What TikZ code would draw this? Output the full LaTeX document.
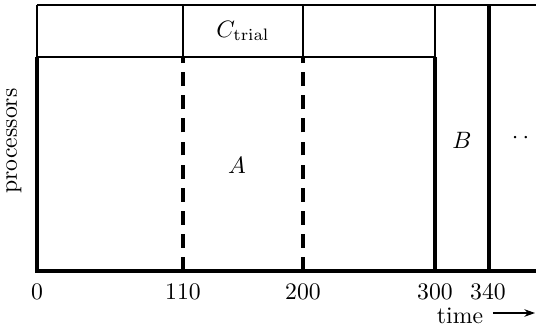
\documentclass[tikz,border=0pt]{standalone}
\usetikzlibrary{arrows.meta}
\begin{document}
\begin{tikzpicture}[x=0.422pt,y=-0.422pt,
  thinl/.style={line width=0.93pt},
  thickl/.style={line width=1.27pt},
  lbl/.style={inner sep=0pt, anchor=base},
  dashl/.style={line width=1.27pt, dash pattern=on 5.9pt off 3.85pt}]
\useasboundingbox (0,0) rectangle (536,328);
\clip (0,0) rectangle (536,328);
% coordinates
\coordinate (tl) at (37,5);
\coordinate (tr) at (540,5);
\coordinate (ml) at (37,57);
\coordinate (mr) at (435,57);
\coordinate (t300) at (435,5);
\coordinate (b300) at (435,271);
\coordinate (bl) at (37,271);
\coordinate (br) at (540,271);
\coordinate (t340) at (489,5);
\coordinate (b340) at (489,271);
\coordinate (ct1) at (183,5);
\coordinate (cb1) at (183,57);
\coordinate (ct2) at (303,5);
\coordinate (cb2) at (303,57);
\coordinate (db1) at (183,271);
\coordinate (db2) at (303,271);
% upper band
\draw[thinl] (tl) -- (tr);
\draw[thinl] (tl) -- (ml) -- (mr);
\draw[thinl] (t300) -- (mr);
\draw[thinl] (ct1) rectangle (cb2);
% lower box
\draw[thickl, line join=miter] (ml) -- (bl) -- (br);
\draw[thickl] (mr) -- (b300);
\draw[thickl] (t340) -- (b340);
% dashed lines
\draw[dashl] (db1) -- (cb1);
\draw[dashl] (db2) -- (cb2);
% labels
\node[lbl] (ctrial) at (243,37) {$C_{\mathrm{trial}}$};
\node[lbl] (A) at (237,173) {$A$};
\node[lbl] (B) at (462,148) {$B$};
\node[lbl] (dots) at (520.5,143) {${\cdot}\kern1.8pt{\cdot}$};
\node[lbl] (n0) at (37,299) {0};
\node[lbl] (n110) at (183,299) {110};
\node[lbl] (n200) at (303,299) {200};
\node[lbl] (n300) at (435,299) {300};
\node[lbl] (n340) at (488,299) {340};
\node[lbl] (time) at (460,323) {time};
\coordinate (a1) at (493,313);
\coordinate (a2) at (535,313);
\draw[line width=0.5pt, -{Stealth[length=4.5pt,width=3.2pt]}] (a1) -- (a2);
\node[lbl, rotate=90] (proc) at (17,141) {processors};
\end{tikzpicture}
\end{document}
